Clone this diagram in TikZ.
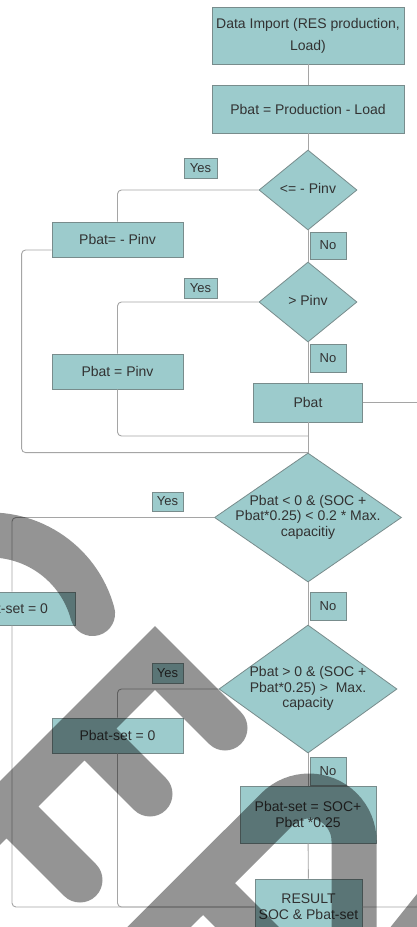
\documentclass[tikz,border=0pt]{standalone}
\usepackage{fontspec}
\setmainfont{Liberation Sans}
\usetikzlibrary{shapes.geometric,calc}
\definecolor{tealfill}{RGB}{156,203,204}
\definecolor{edgegray}{RGB}{120,140,140}
\definecolor{linegray}{RGB}{165,165,165}
\definecolor{inkgray}{RGB}{50,50,50}
\newcommand{\qtext}[1]{\makebox[0pt]{\begin{tabular}{@{}c@{}}#1\end{tabular}}}

\begin{document}
\begin{tikzpicture}[x=1pt,y=-1pt,
  box/.style={rectangle,draw=edgegray,fill=tealfill,line width=0.8pt,inner sep=1pt,
              align=center,text=inkgray,font=\fontsize{14}{16}\selectfont},
  decision/.style={diamond,draw=edgegray,fill=tealfill,line width=0.8pt,inner sep=0pt,
              text=inkgray,font=\fontsize{14}{15.5}\selectfont},
  tag/.style={rectangle,draw=edgegray,fill=tealfill,line width=0.6pt,inner sep=0pt,
              text=inkgray,font=\fontsize{13}{15}\selectfont},
  link/.style={draw=linegray,line width=0.9pt,rounded corners=4pt},
  stamp/.style={draw=black,draw opacity=0.42,line width=45pt,line cap=round,line join=miter}
]
\useasboundingbox (0,0) rectangle (417,927);
\clip (0,0) rectangle (417,927);
\fill[white] (0,0) rectangle (417,927);

\node[box,minimum width=192pt,minimum height=57pt] (import) at (308,35.5) {Data Import (RES production,\\[6pt]Load)};
\node[box,minimum width=192pt,minimum height=48pt] (balance) at (308,109) {Pbat = Production - Load};
\node[decision,minimum width=98pt,minimum height=80pt] (lowlim) at (308,190) {\qtext{<= - Pinv}};
\node[tag,minimum width=33pt,minimum height=20pt] (yes1) at (200.5,168) {Yes};
\node[box,minimum width=131pt,minimum height=35pt] (negset) at (117.5,239.5) {Pbat= - Pinv};
\node[tag,minimum width=36pt,minimum height=27pt] (no1) at (328,245.5) {No};
\node[decision,minimum width=98pt,minimum height=80pt] (uplim) at (308,302) {\qtext{> Pinv}};
\node[tag,minimum width=33pt,minimum height=20pt] (yes2) at (200.5,288.5) {Yes};
\node[box,minimum width=131pt,minimum height=35pt] (posset) at (117.5,371.5) {Pbat = Pinv};
\node[tag,minimum width=36pt,minimum height=28pt] (no2) at (328,358) {No};
\node[box,minimum width=109pt,minimum height=39pt] (pbat) at (308,402.5) {Pbat};
\node[decision,minimum width=187pt,minimum height=129pt] (socmin) at (308,517.5)
  {\qtext{Pbat < 0 \& (SOC +\\Pbat*0.25) < 0.2 * Max.\\capacitiy}};
\node[tag,minimum width=31pt,minimum height=19pt] (yes3) at (167.5,501.5) {Yes};
\node[box,minimum width=131pt,minimum height=33pt] (zeromin) at (10,608.5) {Pbat-set = 0};
\node[tag,minimum width=36pt,minimum height=28pt] (no3) at (328,606) {No};
\node[decision,minimum width=178pt,minimum height=128pt] (socmax) at (308,689)
  {\qtext{Pbat > 0 \& (SOC +\\Pbat*0.25) >~ Max.\\capacity}};
\node[tag,minimum width=31pt,minimum height=20pt] (yes4) at (167.5,673) {Yes};
\node[box,minimum width=131pt,minimum height=35pt] (zeromax) at (117.5,735.5) {Pbat-set = 0};
\node[tag,minimum width=36pt,minimum height=28pt] (no4) at (328,771) {No};
\node[box,minimum width=136pt,minimum height=57pt] (setsoc) at (308,814.5) {Pbat-set = SOC+\\Pbat *0.25};
\node[box,minimum width=107pt,minimum height=56pt] (result) at (308.5,907) {RESULT\\SOC \& Pbat-set};

\draw[link] (import) -- (balance);
\draw[link] (balance) -- (lowlim);
\draw[link] (lowlim.west) -| (negset.north);
\draw[link] (lowlim) -- (uplim);
\draw[link] (uplim.west) -| (posset.north);
\draw[link] (uplim) -- (pbat);
\draw[link] (pbat) -- (socmin);
\draw[link] (posset.south) |- ($(pbat.south)!0.45!(socmin.north)$);
\draw[link] ($(negset.west)+(0,10.5)$) -- ++(-30,0) |- (socmin.north);
\draw[link] (pbat.east) -- ++(70,0) |- (result.east);
\draw[link] (socmin.west) -| ([xshift=2pt]zeromin.north);
\draw[link] ([xshift=2pt]zeromin.south) |- (result.west);
\draw[link] (socmin) -- (socmax);
\draw[link] (socmax.west) -| (zeromax.north);
\draw[link] (zeromax.south) |- (result.west);
\draw[link] (socmax) -- (setsoc);
\draw[link] (setsoc) -- (result);

% watermark
\draw[stamp] (225,728) -- (155,658) -- (-80,893)
  (84.5,728.5) -- (150,794)
  (6.5,806.5) -- (80,880)
  (-28.2,536.6) arc[start angle=-100,end angle=-15,radius=106]
  (120,966) -- (277.2,809.2) arc[start angle=-135,end angle=0,radius=45] -- (354,961.6)
    arc[start angle=0,end angle=135,radius=30] -- (203,883)
  (397,955) -- (445,895);
\end{tikzpicture}
\end{document}
